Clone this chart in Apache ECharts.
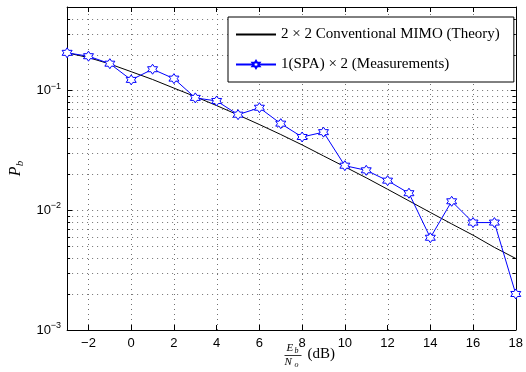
<!DOCTYPE html>
<html>
<head>
<meta charset="utf-8">
<script src="https://cdn.jsdelivr.net/npm/echarts@6/dist/echarts.min.js"></script>
<style>
html, body { margin: 0; padding: 0; background: #fff; }
#chart { width: 526px; height: 372px; }
</style>
</head>
<body>
<div id="chart"></div>
<script>
// Eb/No in dB
var snr = [-3, -2, -1, 0, 1, 2, 3, 4, 5, 6, 7, 8, 9, 10, 11, 12, 13, 14, 15, 16, 17, 18];
// 2x2 conventional MIMO, theory
var theory = [0.207, 0.189, 0.167, 0.144, 0.124, 0.105, 0.0891, 0.0750, 0.0627, 0.0521, 0.0430,
              0.0352, 0.0285, 0.0231, 0.0187, 0.0150, 0.0120, 0.0096, 0.0077, 0.0062, 0.0049, 0.00396];
// 1(SPA) x 2, measurements
var measured = [0.207, 0.194, 0.168, 0.123, 0.151, 0.126, 0.087, 0.082, 0.063, 0.072, 0.053,
                0.041, 0.045, 0.0236, 0.0216, 0.0177, 0.0139, 0.0059, 0.0119, 0.0079, 0.0079, 0.0020];
var xTicks = [-2, 0, 2, 4, 6, 8, 10, 12, 14, 16, 18];
var yMin = 0.001, yMax = 0.5;
var minorY = [0.002, 0.003, 0.004, 0.005, 0.006, 0.007, 0.008, 0.009,
              0.02, 0.03, 0.04, 0.05, 0.06, 0.07, 0.08, 0.09,
              0.2, 0.3, 0.4];
var xMin = -3, xMax = 18;

var chart = echarts.init(document.getElementById('chart'));

// matlab style hexagram marker
var hex = 'path://';
for (var k = 0; k < 12; k++) {
    var r = (k % 2 === 0) ? 10 : 5.77;
    var ang = (-90 + k * 30) * Math.PI / 180;
    hex += (k === 0 ? 'M' : 'L') + (r * Math.cos(ang)).toFixed(2) + ' ' + (r * Math.sin(ang)).toFixed(2);
}
hex += 'Z';

var gridColor = '#707070';
var gridDash = [1, 4];
var dotted = { color: gridColor, width: 1, type: gridDash };

// minor log grid lines + minor ticks both sides
function renderMinor(params, api) {
    var a = api.coord([api.value(0), api.value(1)]);
    var b = api.coord([xMax, api.value(1)]);
    var y = Math.round(a[1]) + 0.5;
    return {
        type: 'group',
        children: [
            { type: 'line', shape: { x1: a[0], y1: y, x2: b[0], y2: y }, style: { stroke: gridColor, lineWidth: 1, lineDash: gridDash } },
            { type: 'line', shape: { x1: a[0], y1: y, x2: a[0] + 3, y2: y }, style: { stroke: '#000', lineWidth: 1 } },
            { type: 'line', shape: { x1: b[0] - 3, y1: y, x2: b[0], y2: y }, style: { stroke: '#000', lineWidth: 1 } }
        ]
    };
}

// vertical grid lines at the x ticks
function renderVert(params, api) {
    var a = api.coord([api.value(0), yMin]);
    var b = api.coord([api.value(0), yMax]);
    var x = Math.round(a[0]) + 0.5;
    return {
        type: 'line',
        shape: { x1: x, y1: a[1], x2: x, y2: b[1] },
        style: { stroke: gridColor, lineWidth: 1, lineDash: gridDash }
    };
}

var serif = 'Liberation Serif';
var sans = 'Liberation Sans';

var option = {
    animation: false,
    backgroundColor: '#fff',
    grid: { left: 60, right: 8, top: 7, bottom: 42 },
    legend: {
        left: 228,
        top: 17,
        orient: 'vertical',
        backgroundColor: '#fff',
        borderColor: '#000',
        borderWidth: 1,
        borderRadius: 0,
        padding: [10, 14, 10, 7],
        itemGap: 15,
        itemWidth: 40,
        itemHeight: 9,
        textStyle: { fontFamily: serif, fontSize: 15, color: '#000' },
        data: [
            { name: '2 × 2 Conventional MIMO (Theory)', itemStyle: { opacity: 0 } },
            { name: '1(SPA) × 2 (Measurements)' }
        ]
    },
    xAxis: [{
        type: 'value',
        min: xMin,
        max: xMax,
        position: 'bottom',
        axisLine: { onZero: false, lineStyle: { color: '#000', width: 1 } },
        axisTick: { inside: true, length: 5, customValues: xTicks, lineStyle: { color: '#000' } },
        axisLabel: {
            customValues: xTicks,
            margin: 7,
            color: '#000',
            fontFamily: sans,
            fontSize: 13,
            formatter: function (v) { return v < 0 ? '\u2212' + Math.abs(v) : String(v); }
        },
        splitLine: { show: false }
    }, {
        type: 'value',
        min: xMin,
        max: xMax,
        position: 'top',
        axisLine: { onZero: false, lineStyle: { color: '#000', width: 1 } },
        axisTick: { inside: true, length: 5, customValues: xTicks, lineStyle: { color: '#000' } },
        axisLabel: { show: false },
        splitLine: { show: false }
    }],
    yAxis: [{
        type: 'log',
        logBase: 10,
        min: yMin,
        max: yMax,
        position: 'left',
        name: '{i|P}{s|b}',
        nameLocation: 'middle',
        nameGap: 40,
        nameRotate: 90,
        nameTextStyle: {
            rich: {
                i: { fontFamily: serif, fontStyle: 'italic', fontSize: 16, color: '#000' },
                s: { fontFamily: serif, fontStyle: 'italic', fontSize: 11, color: '#000', padding: [8, 0, 0, 0] }
            }
        },
        axisLine: { show: true, onZero: false, lineStyle: { color: '#000', width: 1 } },
        axisTick: { inside: true, length: 5, lineStyle: { color: '#000' } },
        axisLabel: {
            margin: 6,
            showMaxLabel: false,
            formatter: function (v) {
                var n = Math.round(Math.log(v) / Math.LN10);
                if (Math.abs(Math.log(v) / Math.LN10 - n) > 0.01) return '';
                return '{b|10}{e|' + (n < 0 ? '\u2212' + Math.abs(n) : n) + '}';
            },
            rich: {
                b: { fontFamily: sans, fontSize: 13, color: '#000' },
                e: { fontFamily: sans, fontSize: 9, color: '#000', padding: [0, 0, 9, 0] }
            }
        },
        splitLine: { show: true, lineStyle: dotted }
    }, {
        type: 'log',
        logBase: 10,
        min: yMin,
        max: yMax,
        position: 'right',
        axisLine: { show: true, onZero: false, lineStyle: { color: '#000', width: 1 } },
        axisTick: { inside: true, length: 5, lineStyle: { color: '#000' } },
        axisLabel: { show: false },
        splitLine: { show: false }
    }],
    graphic: [{
        type: 'group',
        left: 282,
        top: 343,
        children: [
            { type: 'text', x: 2, y: 0, style: { text: 'E', font: 'italic 11px "Liberation Serif"', fill: '#000' } },
            { type: 'text', x: 10, y: 4, style: { text: 'b', font: 'italic 8px "Liberation Serif"', fill: '#000' } },
            { type: 'line', shape: { x1: 0, y1: 12.5, x2: 17, y2: 12.5 }, style: { stroke: '#000', lineWidth: 0.8 } },
            { type: 'text', x: 0, y: 14, style: { text: 'N', font: 'italic 11px "Liberation Serif"', fill: '#000' } },
            { type: 'text', x: 10, y: 18, style: { text: 'o', font: 'italic 8px "Liberation Serif"', fill: '#000' } },
            { type: 'text', x: 23, y: 4, style: { text: '(dB)', font: '15px "Liberation Serif"', fill: '#000' } }
        ]
    }],
    series: [{
        type: 'custom',
        name: 'minor',
        renderItem: renderMinor,
        silent: true,
        z: 0,
        clip: false,
        data: minorY.map(function (v) { return [xMin, v]; })
    }, {
        type: 'custom',
        name: 'vgrid',
        renderItem: renderVert,
        silent: true,
        z: 0,
        clip: false,
        data: xTicks.filter(function (x) { return x < xMax; }).map(function (x) { return [x, yMin]; })
    }, {
        type: 'line',
        name: '2 × 2 Conventional MIMO (Theory)',
        data: snr.map(function (x, i) { return [x, theory[i]]; }),
        symbol: 'none',
        showSymbol: false,
        lineStyle: { color: '#000', width: 1 },
        itemStyle: { color: '#000' },
        z: 3
    }, {
        type: 'line',
        name: '1(SPA) × 2 (Measurements)',
        data: snr.map(function (x, i) { return [x, measured[i]]; }),
        symbol: hex,
        symbolSize: 10,
        lineStyle: { color: '#0000ff', width: 1 },
        itemStyle: { color: '#fff', borderColor: '#0000ff', borderWidth: 1 },
        z: 4
    }]
};

chart.setOption(option);
</script>
</body>
</html>
